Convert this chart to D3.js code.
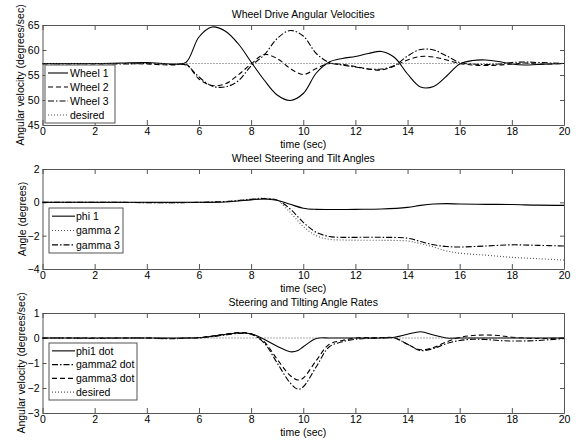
<!DOCTYPE html>
<html>
<head>
<meta charset="utf-8">
<script src="https://cdn.jsdelivr.net/npm/d3@7"></script>
<style>
  body { margin: 0; background: #fff; }
  text { font-family: "Liberation Sans", Arial, sans-serif; font-size: 10.5px; fill: #000; }
</style>
</head>
<body>
<div id="chart"></div>
<script>
// Values (time in seconds)
const timeTicks = [0, 2, 4, 6, 8, 10, 12, 14, 16, 18, 20];

// Panel 1: wheel drive angular velocities (deg/sec)
const tDrive = [0, 1, 2, 3, 4, 5, 5.5, 6, 6.5, 7, 7.5, 8, 8.5, 9, 9.5, 10, 10.5, 11, 11.5, 12,
  12.5, 13, 13.5, 14, 14.5, 15, 15.5, 16, 16.5, 17, 17.5, 18, 18.5, 19, 20];
const wheel1 = [57.3, 57.3, 57.3, 57.4, 57.5, 57.2, 57.5, 62.6, 64.6, 63.8, 61.3, 57.6, 54.0, 51.0, 49.9, 51.3,
  55.4, 57.6, 58.3, 58.7, 59.3, 59.7, 58.5, 55.2, 52.6, 52.7, 54.8, 57.2, 57.9, 58.0, 57.7, 57.2, 57.0, 57.1, 57.3];
const wheel2 = [57.2, 57.3, 57.2, 57.3, 57.2, 57.0, 57.2, 54.2, 52.9, 53.2, 55.0, 57.2, 59.1, 58.3, 56.3, 55.1,
  56.3, 57.3, 57.1, 56.7, 56.2, 56.0, 56.8, 58.0, 58.7, 58.6, 58.0, 57.3, 57.0, 56.9, 57.0, 57.2, 57.4, 57.2, 57.3];
const wheel3 = [57.3, 57.2, 57.3, 57.2, 57.3, 57.1, 57.0, 54.6, 52.8, 52.6, 53.8, 56.8, 59.0, 62.3, 63.9, 62.8,
  59.3, 57.5, 57.0, 56.6, 56.2, 56.2, 56.9, 58.8, 60.1, 60.0, 58.8, 57.5, 57.2, 57.1, 57.2, 57.5, 57.6, 57.5, 57.3];
const tDesired = [0, 20];
const driveDesired = [57.3, 57.3];
const driveTicks = [45, 50, 55, 60, 65];

// Panel 2: steering and tilt angles (deg)
const tAngle = [0, 1, 2, 3, 4, 5, 6, 6.5, 7, 7.5, 8, 8.5, 9, 9.5, 10, 10.5, 11, 11.5, 12, 13, 14,
  14.5, 15, 15.5, 16, 17, 18, 19, 20];
const phi1 = [0, 0, 0, 0, 0, 0, 0, 0, 0.02, 0.08, 0.15, 0.2, 0.12, -0.12, -0.35, -0.42, -0.43, -0.43, -0.42,
  -0.4, -0.3, -0.18, -0.1, -0.08, -0.1, -0.12, -0.13, -0.17, -0.18];
const gamma2 = [0, 0, 0, 0, -0.02, -0.03, 0, 0.02, 0.05, 0.12, 0.2, 0.25, 0.12, -0.6, -1.45, -2.0, -2.22, -2.26,
  -2.27, -2.28, -2.32, -2.48, -2.68, -2.92, -3.05, -3.17, -3.3, -3.38, -3.46];
const gamma3 = [0, 0, 0, 0, -0.02, -0.02, 0, 0.02, 0.05, 0.1, 0.18, 0.22, 0.13, -0.4, -1.2, -1.8, -2.05, -2.1,
  -2.1, -2.1, -2.15, -2.35, -2.55, -2.65, -2.68, -2.62, -2.55, -2.58, -2.62];
const angleTicks = [-4, -2, 0, 2];

// Panel 3: steering and tilting angle rates (deg/sec)
const tRate = [0, 1, 2, 3, 4, 5, 5.5, 6, 6.5, 7, 7.5, 8, 8.5, 9, 9.5, 9.8, 10, 10.5, 11, 11.5, 12, 13, 13.5,
  14, 14.5, 15, 15.5, 16, 16.5, 17, 17.5, 18, 19, 20];
const phi1Dot = [0, 0, 0, 0, 0, 0, 0, 0.01, 0.07, 0.14, 0.2, 0.17, -0.05, -0.33, -0.55, -0.5, -0.35, -0.02, 0,
  0, 0, 0, 0.03, 0.15, 0.25, 0.12, 0, 0, 0, 0, 0, 0, 0, 0];
const gamma2Dot = [0, 0, -0.02, 0, 0, -0.03, 0, 0, 0.05, 0.12, 0.18, 0.15, -0.2, -1.0, -1.8, -2.05, -1.95, -1.15,
  -0.35, -0.15, -0.05, 0, 0, -0.25, -0.5, -0.42, -0.22, -0.1, -0.05, -0.06, -0.1, -0.12, -0.1, -0.02];
const gamma3Dot = [0, 0, 0, 0, 0, -0.02, 0, 0.02, 0.08, 0.15, 0.22, 0.17, -0.15, -0.85, -1.5, -1.68, -1.6, -0.9,
  -0.25, -0.1, 0, 0.02, 0, -0.25, -0.47, -0.38, -0.15, 0.02, 0.1, 0.12, 0.1, 0.03, -0.02, 0];
const rateDesired = [0, 0];
const rateTicks = [-3, -2, -1, 0, 1];

// line styles
const SOLID = null, DASHED = '5,3', DASHDOT = '6,2,1.5,2', DOTTED = '1,2';

const width = 581, height = 443;
const left = 42.5, right = 564;

const svg = d3.select('#chart')
  .append('svg')
  .attr('width', width)
  .attr('height', height);

const x = d3.scaleLinear().domain([0, 20]).range([left, right]);

const panels = [
  {
    top: 25, yDomain: [45, 65], yTicks: driveTicks,
    title: 'Wheel Drive Angular Velocities', ylabel: 'Angular velocity (degrees/sec)', ylabelX: 24,
    series: [
      { name: 'Wheel 1', t: tDrive, v: wheel1, dash: SOLID },
      { name: 'Wheel 2', t: tDrive, v: wheel2, dash: DASHED },
      { name: 'Wheel 3', t: tDrive, v: wheel3, dash: DASHDOT },
      { name: 'desired', t: tDesired, v: driveDesired, dash: DOTTED }
    ],
    legend: { x: 45, y: 65, w: 70, h: 58, lineX0: 48, lineX1: 68, textX: 70 }
  },
  {
    top: 169, yDomain: [-4, 2], yTicks: angleTicks,
    title: 'Wheel Steering and Tilt Angles', ylabel: 'Angle (degrees)', ylabelX: 25.5,
    series: [
      { name: 'phi 1', t: tAngle, v: phi1, dash: SOLID },
      { name: 'gamma 2', t: tAngle, v: gamma2, dash: DOTTED },
      { name: 'gamma 3', t: tAngle, v: gamma3, dash: DASHDOT }
    ],
    legend: { x: 49, y: 208, w: 74, h: 45, lineX0: 52, lineX1: 75, textX: 76 }
  },
  {
    top: 313, yDomain: [-3, 1], yTicks: rateTicks,
    title: 'Steering and Tilting Angle Rates', ylabel: 'Angular velocity (degrees/sec)', ylabelX: 24.5,
    series: [
      { name: 'phi1 dot', t: tRate, v: phi1Dot, dash: SOLID },
      { name: 'gamma2 dot', t: tRate, v: gamma2Dot, dash: DASHDOT },
      { name: 'gamma3 dot', t: tRate, v: gamma3Dot, dash: DASHED },
      { name: 'desired', t: tDesired, v: rateDesired, dash: DOTTED }
    ],
    legend: { x: 49, y: 343, w: 88, h: 57, lineX0: 52, lineX1: 75, textX: 76 }
  }
];

panels.forEach(drawPanel);

function drawPanel(p) {
  const plotH = 100;
  const bottom = p.top + plotH;
  const y = d3.scaleLinear().domain(p.yDomain).range([bottom, p.top]);
  const g = svg.append('g');

  // white plot area
  g.append('rect')
    .attr('x', left).attr('y', p.top)
    .attr('width', right - left).attr('height', plotH)
    .attr('fill', '#fff');

  // axes with inward ticks (MATLAB style box)
  const axB = g.append('g').attr('transform', `translate(0,${bottom})`)
    .call(d3.axisBottom(x).tickValues(timeTicks).tickFormat(d3.format('d')).tickSizeInner(-5).tickSizeOuter(0).tickPadding(3));
  const axT = g.append('g').attr('transform', `translate(0,${p.top})`)
    .call(d3.axisTop(x).tickValues(timeTicks).tickFormat('').tickSizeInner(-5).tickSizeOuter(0));
  const axL = g.append('g').attr('transform', `translate(${left},0)`)
    .call(d3.axisLeft(y).tickValues(p.yTicks).tickFormat(d3.format('d')).tickSizeInner(-4).tickSizeOuter(0).tickPadding(3));
  const axR = g.append('g').attr('transform', `translate(${right},0)`)
    .call(d3.axisRight(y).tickValues(p.yTicks).tickFormat('').tickSizeInner(-4).tickSizeOuter(0));

  [axB, axT, axL, axR].forEach(a => {
    a.select('.domain').attr('stroke', '#555');
    a.selectAll('.tick line').attr('stroke', '#555');
    a.selectAll('text').attr('font-size', null).attr('font-family', null);
  });

  // curves
  const line = d3.line()
    .x(d => x(d[0]))
    .y(d => y(d[1]))
    .curve(d3.curveCatmullRom.alpha(0.5));

  p.series.forEach(s => {
    g.append('path')
      .datum(s.t.map((t, i) => [t, s.v[i]]))
      .attr('fill', 'none')
      .attr('stroke', s.dash === DOTTED ? '#555' : '#000')
      .attr('stroke-width', 1.1)
      .attr('stroke-dasharray', s.dash)
      .attr('d', line);
  });

  // title and labels
  g.append('text')
    .attr('x', (left + right) / 2).attr('y', p.top - 7.5)
    .attr('text-anchor', 'middle')
    .text(p.title);
  g.append('text')
    .attr('x', (left + right) / 2).attr('y', bottom + 23)
    .attr('text-anchor', 'middle')
    .text('time (sec)');
  g.append('text')
    .attr('transform', `translate(${p.ylabelX},${p.top + plotH / 2}) rotate(-90)`)
    .attr('text-anchor', 'middle')
    .text(p.ylabel);

  // legend
  const L = p.legend;
  const lg = g.append('g');
  lg.append('rect')
    .attr('x', L.x).attr('y', L.y).attr('width', L.w).attr('height', L.h)
    .attr('fill', '#fff').attr('stroke', '#555');
  const rowH = (L.h - 2) / p.series.length;
  p.series.forEach((s, i) => {
    const cy = L.y + 1 + rowH * (i + 0.5);
    lg.append('line')
      .attr('x1', L.lineX0).attr('x2', L.lineX1)
      .attr('y1', cy).attr('y2', cy)
      .attr('stroke', s.dash === DOTTED ? '#555' : '#000')
      .attr('stroke-width', 1.1)
      .attr('stroke-dasharray', s.dash);
    lg.append('text')
      .attr('x', L.textX).attr('y', cy + 3.8)
      .text(s.name);
  });
}
</script>
</body>
</html>
